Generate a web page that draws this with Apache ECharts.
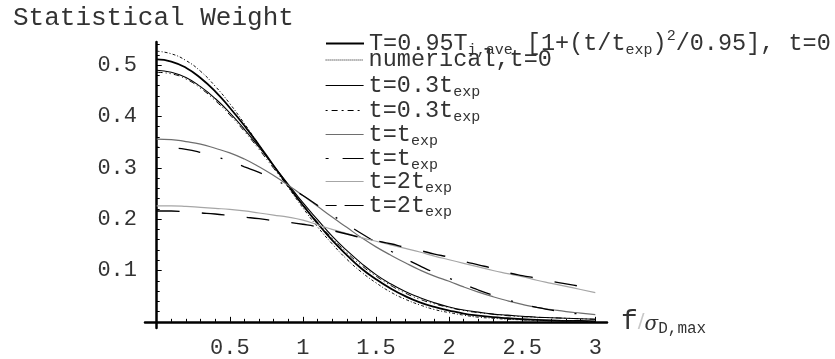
<!DOCTYPE html>
<html>
<head>
<meta charset="utf-8">
<script src="https://cdn.jsdelivr.net/npm/echarts@6.0.0/dist/echarts.min.js"></script>
<style>
html, body { margin: 0; padding: 0; background: #fff; }
#chart { width: 835px; height: 359px; }
</style>
</head>
<body>
<div id="chart"></div>
<script>
// f / sigma_D,max sample points
var xs = [0, 0.1, 0.2, 0.3, 0.4, 0.5, 0.6, 0.7, 0.8, 0.9, 1.0, 1.1, 1.2, 1.3, 1.4, 1.5,
	1.6, 1.7, 1.8, 1.9, 2.0, 2.1, 2.2, 2.3, 2.4, 2.5, 2.6, 2.7, 2.8, 2.9, 3.0];

// statistical weight
var analytic0 = [0.511, 0.507, 0.495, 0.475, 0.449, 0.417, 0.382, 0.344, 0.304, 0.265, 0.227, 0.192, 0.159, 0.130, 0.104, 0.083,
	0.065, 0.050, 0.038, 0.029, 0.022, 0.016, 0.012, 0.009, 0.007, 0.005, 0.004, 0.003, 0.002, 0.002, 0.001];
var numerical0 = [0.527, 0.522, 0.509, 0.488, 0.459, 0.425, 0.386, 0.345, 0.303, 0.262, 0.222, 0.185, 0.152, 0.122, 0.097, 0.076,
	0.058, 0.044, 0.033, 0.024, 0.018, 0.013, 0.009, 0.007, 0.005, 0.004, 0.003, 0.002, 0.002, 0.001, 0.001];
var fit03 = [0.490, 0.486, 0.476, 0.458, 0.435, 0.407, 0.375, 0.340, 0.304, 0.268, 0.232, 0.199, 0.167, 0.139, 0.114, 0.092,
	0.074, 0.059, 0.047, 0.037, 0.029, 0.023, 0.019, 0.015, 0.013, 0.011, 0.009, 0.008, 0.007, 0.006, 0.005];
var num03 = [0.486, 0.483, 0.473, 0.455, 0.431, 0.403, 0.371, 0.336, 0.299, 0.263, 0.228, 0.194, 0.163, 0.135, 0.110, 0.089,
	0.071, 0.056, 0.044, 0.035, 0.028, 0.022, 0.018, 0.015, 0.012, 0.010, 0.009, 0.008, 0.007, 0.006, 0.005];
var fit1 = [0.356, 0.355, 0.351, 0.346, 0.338, 0.329, 0.317, 0.302, 0.285, 0.266, 0.246, 0.225, 0.204, 0.184, 0.164, 0.146,
	0.130, 0.115, 0.101, 0.089, 0.079, 0.068, 0.058, 0.049, 0.041, 0.034, 0.028, 0.024, 0.020, 0.017, 0.014];
var num1 = [0.340, 0.339, 0.336, 0.330, 0.322, 0.313, 0.302, 0.291, 0.278, 0.263, 0.246, 0.227, 0.208, 0.190, 0.172, 0.155,
	0.138, 0.123, 0.109, 0.096, 0.085, 0.073, 0.062, 0.052, 0.043, 0.035, 0.028, 0.023, 0.018, 0.015, 0.012];
var fit2 = [0.226, 0.226, 0.225, 0.223, 0.221, 0.219, 0.216, 0.212, 0.208, 0.204, 0.198, 0.189, 0.180, 0.172, 0.164, 0.157,
	0.150, 0.143, 0.136, 0.128, 0.121, 0.114, 0.107, 0.100, 0.094, 0.088, 0.081, 0.075, 0.069, 0.063, 0.057];
var num2 = [0.216, 0.216, 0.214, 0.212, 0.210, 0.207, 0.204, 0.201, 0.197, 0.194, 0.190, 0.185, 0.178, 0.171, 0.164, 0.158,
	0.152, 0.145, 0.139, 0.132, 0.126, 0.118, 0.111, 0.104, 0.096, 0.090, 0.085, 0.079, 0.074, 0.069, 0.064];

// tick values
var xMajor = [0.5, 1, 1.5, 2, 2.5, 3];
var xMinor = [0.1, 0.2, 0.3, 0.4, 0.6, 0.7, 0.8, 0.9, 1.1, 1.2, 1.3, 1.4, 1.6, 1.7, 1.8, 1.9,
	2.1, 2.2, 2.3, 2.4, 2.6, 2.7, 2.8, 2.9];
var yMajor = [0.1, 0.2, 0.3, 0.4, 0.5];
var yMinor = [0.02, 0.04, 0.06, 0.08, 0.12, 0.14, 0.16, 0.18, 0.22, 0.24, 0.26, 0.28,
	0.32, 0.34, 0.36, 0.38, 0.42, 0.44, 0.46, 0.48, 0.52, 0.54];

var seriesNames = ['analytic0', 'numerical0', 'fit03', 'num03', 'fit1', 'num1', 'fit2', 'num2'];
var legendLabels = [
	'{m|T=0.95T}{s|i,ave}{m| [1+(t/t}{s|exp}{m|)}{p|2}{m|/0.95], t=0}',
	'{m|numerical,t=0}',
	'{m|t=0.3t}{s|exp}',
	'{m|t=0.3t}{s|exp}',
	'{m|t=t}{s|exp}',
	'{m|t=t}{s|exp}',
	'{m|t=2t}{s|exp}',
	'{m|t=2t}{s|exp}'
];
var seriesValues = [analytic0, numerical0, fit03, num03, fit1, num1, fit2, num2];

// styles
var lineColors = ['#000', '#111', '#000', '#000', '#6e6e6e', '#000', '#a6a6a6', '#000'];
var lineWidths = [1.8, 1, 1.1, 1, 1.2, 1.3, 1.2, 1.4];
var lineTypes = ['solid', [3, 2, 1, 2], 'solid', [6, 3, 1, 3, 1, 3], 'solid', [2, 20, 22, 21], 'solid', [23, 22]];
var iconTypes = ['solid', [1, 1], 'solid', [2, 4, 6, 4], 'solid', [3, 14, 22, 10], 'solid', [11, 8, 20, 10]];
var legendMid = [45, 64, 87, 112, 136, 160, 183, 207];

var mono = 'Liberation Mono';
var textColor = '#333';

var chart = echarts.init(document.getElementById('chart'));

var series = [];
var legends = [];
for (var i = 0; i < seriesNames.length; i++) {
	var vals = seriesValues[i];
	series.push({
		name : seriesNames[i],
		type : 'line',
		smooth : true,
		showSymbol : false,
		symbol : 'none',
		animation : false,
		lineStyle : {
			color : lineColors[i],
			width : lineWidths[i],
			type : lineTypes[i]
		},
		itemStyle : {
			color : lineColors[i]
		},
		data : xs.map(function(x, k) {
			return [x, vals[k]];
		})
	});
	legends.push({
		data : [seriesNames[i]],
		left : 325,
		top : legendMid[i] - 16,
		orient : 'vertical',
		padding : 0,
		itemWidth : 38,
		itemHeight : 14,
		selectedMode : false,
		itemStyle : {
			opacity : 0,
			borderWidth : 0
		},
		lineStyle : {
			color : lineColors[i],
			width : i === 0 ? 2 : 1.2,
			type : iconTypes[i]
		},
		formatter : (function(label) {
			return function() {
				return label;
			};
		})(legendLabels[i]),
		textStyle : {
			rich : {
				m : { fontFamily : mono, fontSize : 23.5, lineHeight : 32, color : textColor },
				s : { fontFamily : mono, fontSize : 15, lineHeight : 15, padding : [14, 0, 0, 0], color : textColor },
				p : { fontFamily : mono, fontSize : 15, lineHeight : 15, padding : [0, 0, 14, 0], color : textColor }
			}
		}
	});
}

var axisLineStyle = { color : '#000', width : 2.5 };
var tickStyle = { color : '#000', width : 1 };
var labelStyle = { fontFamily : mono, fontSize : 22, color : textColor };

var option = {
	animation : false,
	backgroundColor : '#fff',
	title : {
		text : 'Statistical Weight',
		left : 8,
		top : 0,
		textStyle : { fontFamily : mono, fontSize : 26, fontWeight : 'normal', color : textColor }
	},
	grid : { left : 145, right : 228, top : 42, bottom : 31, containLabel : false },
	legend : legends,
	xAxis : [ {
		type : 'value',
		position : 'bottom',
		min : -0.08,
		max : 3.08,
		axisLine : { onZero : true, lineStyle : axisLineStyle },
		axisTick : { inside : true, length : 5, customValues : xMajor, lineStyle : tickStyle },
		axisLabel : Object.assign({ customValues : xMajor, margin : 9 }, labelStyle),
		splitLine : { show : false },
		name : '{f|f}{sl|/}{sg|σ}{sb|D,max}',
		nameLocation : 'end',
		nameGap : 14,
		nameTextStyle : {
			rich : {
				f : { fontFamily : mono, fontSize : 28, color : textColor },
				sl : { fontFamily : 'DejaVu Sans', fontSize : 20, color : '#c8c8c8' },
				sg : { fontFamily : 'DejaVu Serif', fontStyle : 'italic', fontSize : 20, color : textColor, padding : [6, 0, 0, 0] },
				sb : { fontFamily : mono, fontSize : 16, color : textColor, padding : [14, 0, 0, 0] }
			}
		}
	}, {
		type : 'value',
		position : 'bottom',
		min : -0.08,
		max : 3.08,
		axisLine : { show : false, onZero : true },
		axisTick : { inside : true, length : 3, customValues : xMinor, lineStyle : tickStyle },
		axisLabel : { show : false },
		splitLine : { show : false }
	} ],
	yAxis : [ {
		type : 'value',
		position : 'left',
		min : -0.012,
		max : 0.545,
		axisLine : { onZero : true, lineStyle : axisLineStyle },
		axisTick : { inside : true, length : 5, customValues : yMajor, lineStyle : tickStyle },
		axisLabel : Object.assign({ customValues : yMajor, margin : 8 }, labelStyle),
		splitLine : { show : false }
	}, {
		type : 'value',
		position : 'left',
		min : -0.012,
		max : 0.545,
		axisLine : { show : false, onZero : true },
		axisTick : { inside : true, length : 3, customValues : yMinor, lineStyle : tickStyle },
		axisLabel : { show : false },
		splitLine : { show : false }
	} ],
	series : series
};

chart.setOption(option);
</script>
</body>
</html>
